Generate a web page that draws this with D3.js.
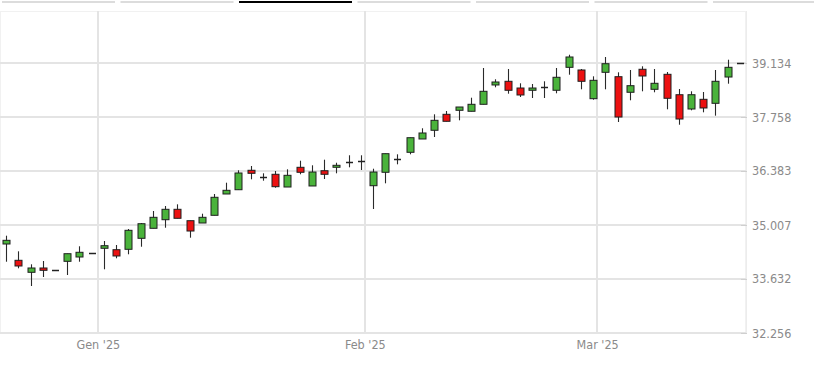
<!DOCTYPE html>
<html>
<head>
<meta charset="utf-8">
<script src="https://cdn.jsdelivr.net/npm/d3@7/dist/d3.min.js"></script>
<style>
  html, body { margin: 0; padding: 0; background: #fff; }
  svg { display: block; }
  text { font-family: "DejaVu Sans Condensed", "Liberation Sans Narrow", "DejaVu Sans", sans-serif; font-stretch: condensed; }
</style>
</head>
<body>
<svg id="chart" width="814" height="367"></svg>
<script>
// ---- Data ----
const opens  = [34.523,34.108,33.802,33.912,33.861,34.082,34.192,34.302,34.414,34.378,
                34.388,34.668,34.923,35.142,35.407,35.117,35.058,35.254,35.797,35.906,
                36.401,36.238,36.299,35.975,36.477,36.001,36.390,36.477,36.604,36.638,
                36.008,36.350,36.688,36.859,37.198,37.420,37.827,37.929,37.904,38.082,
                38.574,38.668,38.497,38.439,38.523,38.439,39.024,38.956,38.225,38.897,
                38.785,38.388,38.974,38.464,38.846,38.326,37.962,38.209,38.107,38.777,
                39.134];
const highs  = [34.735,34.337,34.006,34.090,33.861,34.276,34.465,34.302,34.600,34.498,
                34.905,35.058,35.364,35.491,35.534,35.117,35.295,35.797,36.085,36.401,
                36.510,36.324,36.383,36.426,36.645,36.528,36.671,36.594,36.783,36.783,
                36.441,36.824,36.808,37.231,37.471,37.827,37.911,38.013,38.250,39.007,
                38.719,38.981,38.617,38.599,38.668,39.007,39.345,38.981,38.795,39.287,
                38.897,38.956,39.050,38.981,38.905,38.472,38.413,38.395,38.956,39.218,
                39.134];
const lows   = [34.072,33.904,33.453,33.683,33.861,33.734,34.072,34.302,33.879,34.159,
                34.261,34.454,34.923,34.938,35.178,34.684,35.058,35.254,35.797,35.906,
                36.171,36.136,35.957,35.975,36.299,36.001,36.179,36.324,36.477,36.408,
                35.415,36.069,36.553,36.808,37.198,37.249,37.649,37.674,37.904,38.082,
                38.515,38.352,38.268,38.242,38.242,38.362,38.836,38.464,38.199,38.464,
                37.631,38.184,38.413,38.388,37.955,37.562,37.929,37.878,37.792,38.607,
                39.134];
const closes = [34.617,33.963,33.912,33.853,33.861,34.276,34.312,34.302,34.480,34.218,
                34.872,35.040,35.203,35.407,35.178,34.854,35.203,35.713,35.891,36.332,
                36.324,36.238,35.983,36.273,36.350,36.357,36.299,36.528,36.604,36.638,
                36.357,36.824,36.688,37.231,37.351,37.674,37.649,38.013,38.082,38.413,
                38.650,38.439,38.319,38.497,38.523,38.770,39.287,38.668,38.693,39.116,
                37.758,38.556,38.803,38.617,38.235,37.707,38.326,37.988,38.668,39.024,
                39.134];

// y-axis tick labels and month markers (fractional trading-day index of the 1st of each month)
const yTickValues = [39.134, 37.758, 36.383, 35.007, 33.632, 32.256];
const monthLabels = ["Gen '25", "Feb '25", "Mar '25"];
const monthIndex  = [7.5, 29.33, 48.33];

// Range selector tabs (7, third one active)
const tabCount = 7;
const activeTab = 2;

// ---- Drawing ----
const svg = d3.select("#chart");
const W = 814, H = 367;
const plot = { left: 0, right: 746, top: 11, bottom: 333 };

const idx = d3.range(opens.length);
const x = d3.scaleLinear().domain([-0.5, opens.length - 0.5]).range([plot.left, plot.right]);
const y = d3.scaleLinear().domain([32.256, 39.134]).range([333, 63]);

// tabs
const tabW = (W - 2) / tabCount;
svg.append("g").selectAll("rect").data(d3.range(tabCount)).join("rect")
  .attr("x", d => 2 + d * 118.5)
  .attr("y", 1)
  .attr("width", 113)
  .attr("height", 2)
  .attr("fill", d => d === activeTab ? "#000" : "#dcdcdc");

// plot frame (very light)
svg.append("rect")
  .attr("x", plot.left + 0.5).attr("y", plot.top + 0.5)
  .attr("width", plot.right - plot.left - 1).attr("height", plot.bottom - plot.top)
  .attr("fill", "none").attr("stroke", "#f1f1f1");

// horizontal gridlines
const grid = svg.append("g");
grid.selectAll("line.h").data(yTickValues).join("line")
  .attr("class", "h")
  .attr("x1", plot.left).attr("x2", plot.right)
  .attr("y1", d => Math.round(y(d))).attr("y2", d => Math.round(y(d)))
  .attr("stroke", "#e4e4e4").attr("stroke-width", 2);

// vertical month gridlines
grid.selectAll("line.v").data(monthIndex).join("line")
  .attr("class", "v")
  .attr("x1", d => Math.round(x(d))).attr("x2", d => Math.round(x(d)))
  .attr("y1", plot.top).attr("y2", plot.bottom)
  .attr("stroke", "#e4e4e4").attr("stroke-width", 2);

// right edge line
svg.append("line")
  .attr("x1", plot.right + 0.5).attr("x2", plot.right + 0.5)
  .attr("y1", plot.top).attr("y2", plot.bottom)
  .attr("stroke", "#ececec");

// y axis (right) using d3 axis
const yAxis = d3.axisRight(y).tickValues(yTickValues).tickSize(6).tickPadding(5)
  .tickFormat(d3.format(".3f"));
const yg = svg.append("g").attr("transform", `translate(${plot.right - 5},0)`).call(yAxis);
yg.select(".domain").remove();
yg.selectAll(".tick line").attr("stroke", "#cfcfcf");
yg.selectAll(".tick text").attr("fill", "#8a8a8a").attr("font-size", 12.5)
  .attr("x", 11);

// x axis (month labels)
const xAxis = d3.axisBottom(x).tickValues(monthIndex).tickSize(0).tickPadding(7)
  .tickFormat((d, i) => monthLabels[i]);
const xg = svg.append("g").attr("transform", `translate(0,${plot.bottom})`).call(xAxis);
xg.select(".domain").remove();
xg.selectAll(".tick text").attr("fill", "#8a8a8a").attr("font-size", 12.5);

// candles
const green = "#4ab33b", red = "#ec1111", edge = "#1f1f1f";
const cg = svg.append("g");
const candle = cg.selectAll("g.c").data(idx).join("g").attr("class", "c");
const cx = i => Math.round(x(i));

candle.append("line")
  .attr("x1", i => cx(i) + 0.5).attr("x2", i => cx(i) + 0.5)
  .attr("y1", i => y(highs[i])).attr("y2", i => y(lows[i]))
  .attr("stroke", "#2a2a2a").attr("stroke-width", 1.1);

candle.filter(i => Math.abs(opens[i] - closes[i]) >= 0.02).append("rect")
  .attr("x", i => cx(i) - 3)
  .attr("width", 7)
  .attr("y", i => y(Math.max(opens[i], closes[i])))
  .attr("height", i => Math.max(1, Math.abs(y(opens[i]) - y(closes[i]))))
  .attr("fill", i => closes[i] >= opens[i] ? green : red)
  .attr("stroke", edge).attr("stroke-width", 1);

candle.filter(i => Math.abs(opens[i] - closes[i]) < 0.02).append("line")
  .attr("x1", i => cx(i) - 3).attr("x2", i => cx(i) + 4)
  .attr("y1", i => Math.round(y(closes[i])) + 0.5).attr("y2", i => Math.round(y(closes[i])) + 0.5)
  .attr("stroke", "#222").attr("stroke-width", 1.5);
</script>
</body>
</html>
